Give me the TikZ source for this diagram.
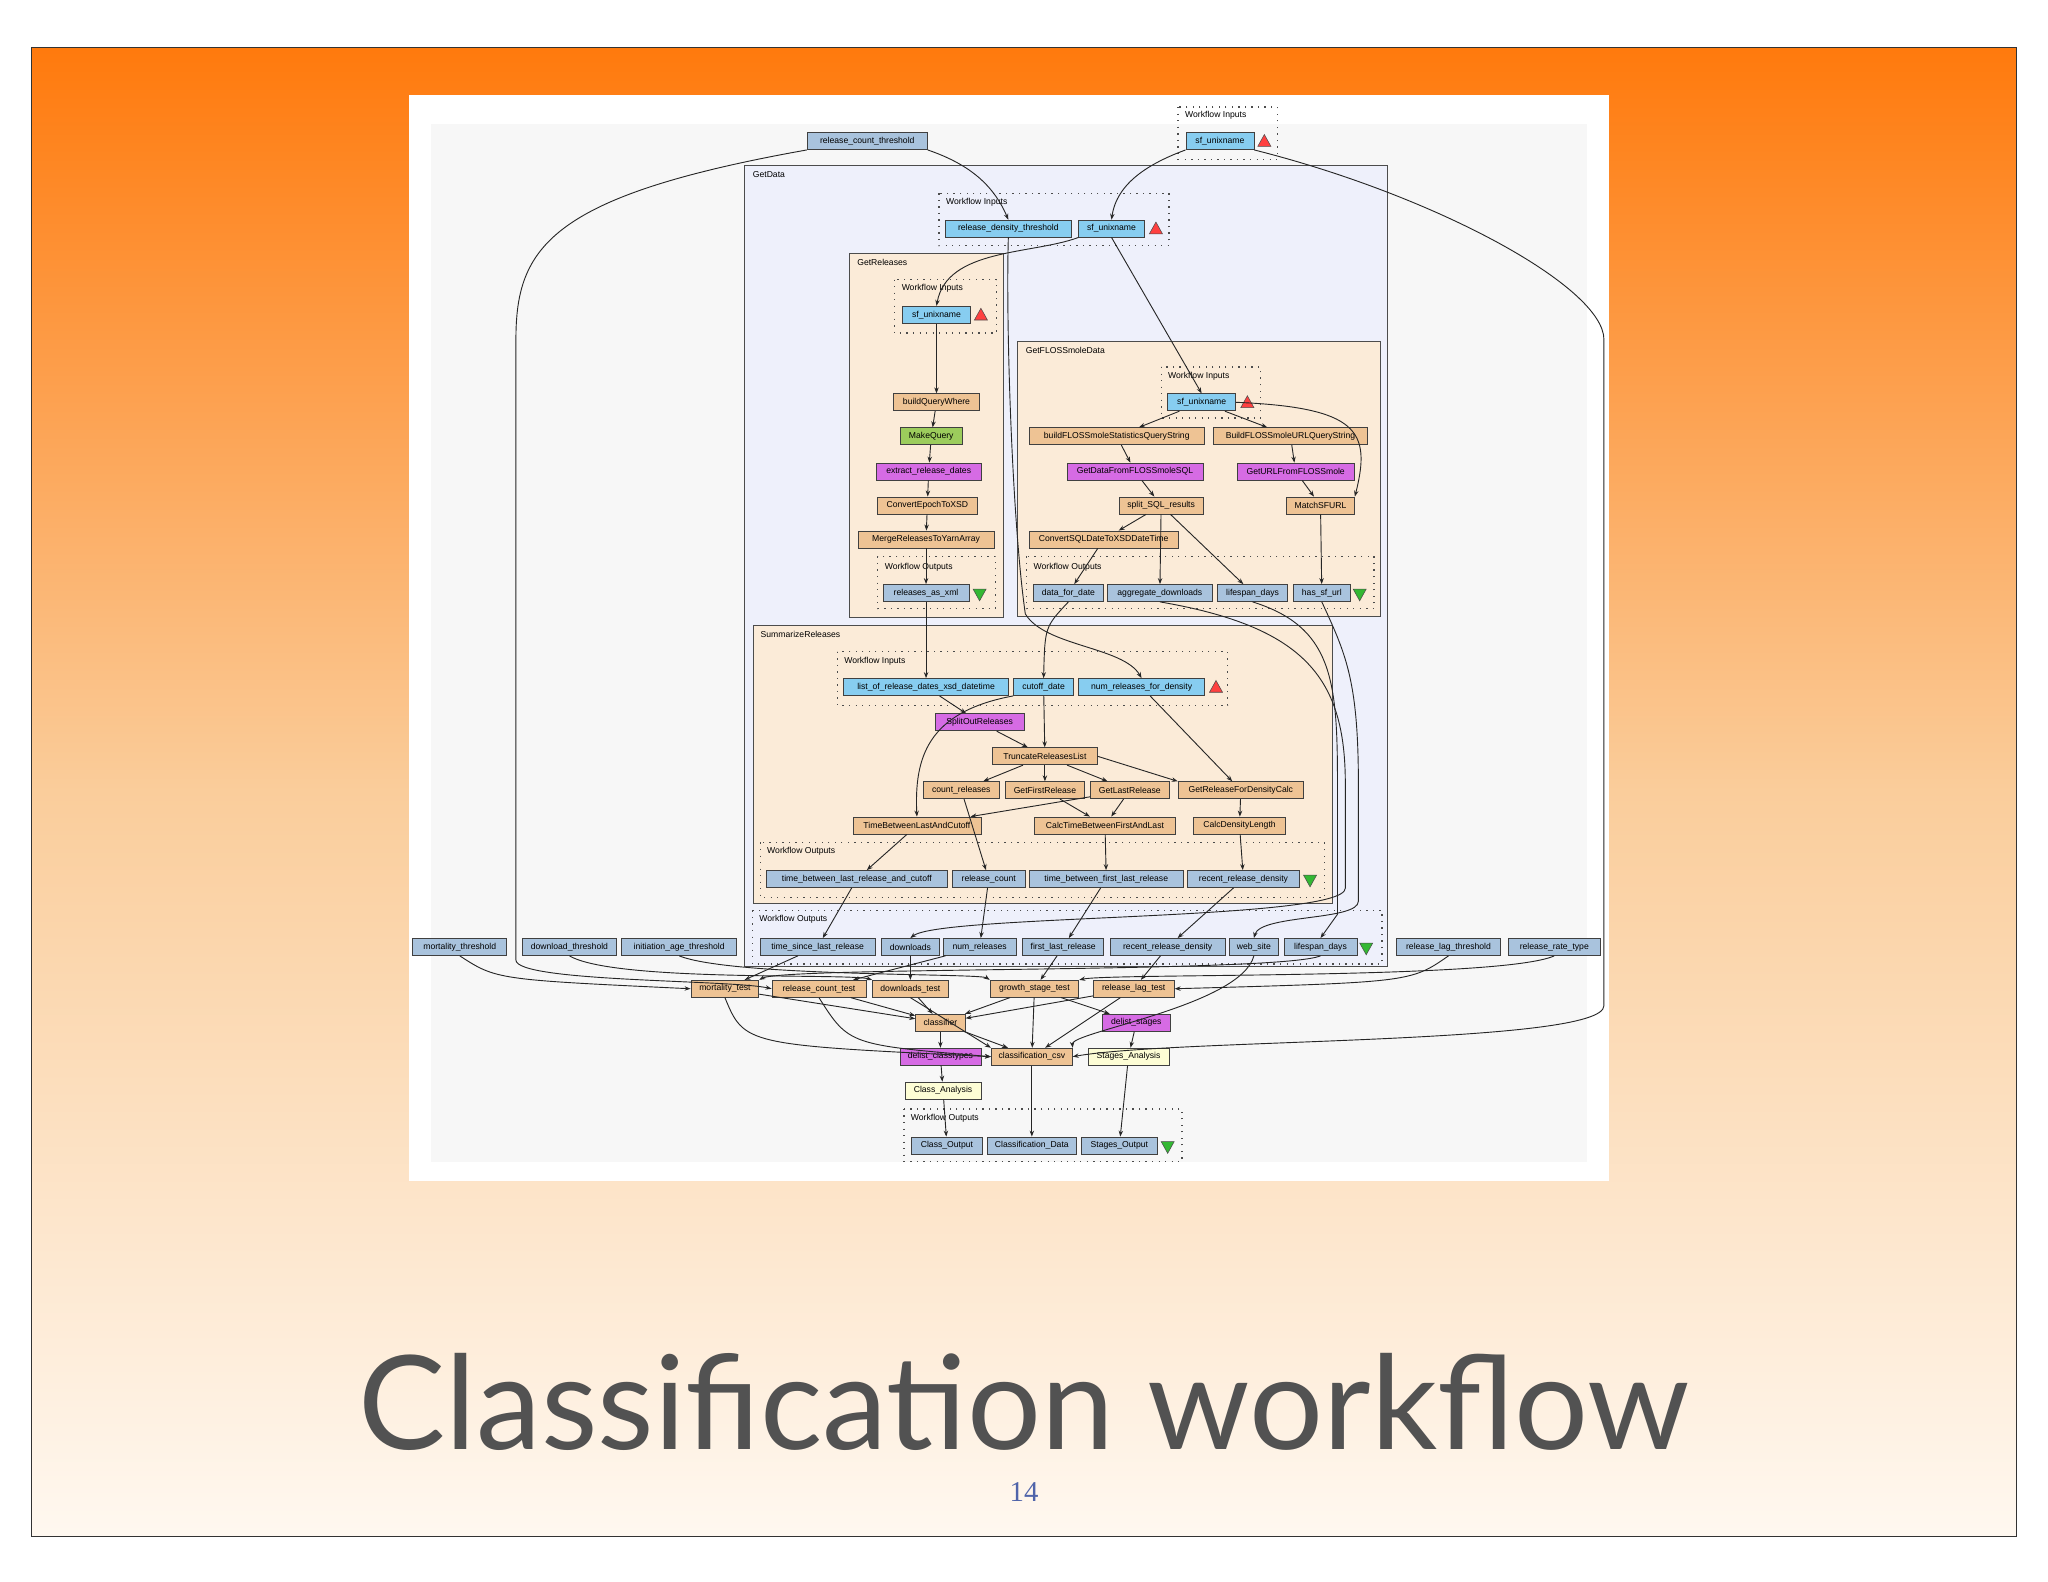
\documentclass[tikz,border=0pt]{standalone}
\usepackage{fontspec}
\setmainfont{Liberation Sans}
\newfontfamily\titlefont{Lato}
\newfontfamily\numfont{Liberation Serif}
\usetikzlibrary{arrows.meta}
\definecolor{tanc}{HTML}{EEC394}
\definecolor{inb}{HTML}{87CDF0}
\definecolor{gb}{HTML}{A9C3DD}
\definecolor{grn}{HTML}{9CCC5C}
\definecolor{mag}{HTML}{D66BE4}
\definecolor{pyl}{HTML}{FDFDD5}
\definecolor{subbg}{HTML}{FBEBD8}
\definecolor{gdbg}{HTML}{EEF0FB}
\tikzset{
 box/.style={draw=black!75,line width=0.3pt,inner sep=0pt,minimum height=6.5pt,font=\fontsize{3.3}{3.6}\selectfont},
 w/.style={minimum width=#1*0.5pt},
 tan/.style={box,fill=tanc}, inb/.style={box,fill=inb}, gb/.style={box,fill=gb},
 grn/.style={box,fill=grn}, mag/.style={box,fill=mag}, pyl/.style={box,fill=pyl},
 dots/.style={draw=black!70,dotted,line width=0.5pt},
 sub/.style={draw=black!70,line width=0.3pt},
 lab/.style={anchor=west,font=\fontsize{3.3}{3.6}\selectfont,inner sep=0pt},
 e/.style={draw=black!85,line width=0.35pt,-{Stealth[length=2.3pt,width=1.7pt]}},
 tup/.pic={\filldraw[fill=red!75!white,draw=black!70,line width=0.2pt] (-5,4)--(5,4)--(0,-5)--cycle;},
 tdn/.pic={\filldraw[fill=green!65!black!80!white,draw=black!70,line width=0.2pt] (-5,-4)--(5,-4)--(0,5)--cycle;}
}
\begin{document}
\begin{tikzpicture}[x=0.5pt,y=-0.5pt]
\useasboundingbox (0,0) rectangle (1568,1211);
\fill[white] (0,0) rectangle (1568,1211);
\shade[top color=orange!90!red!95!white,bottom color={rgb,255:red,255;green,248;blue,240},middle color={rgb,255:red,250;green,205;blue,155}] (24,36) rectangle (1544,1176);
\draw[black!80,line width=0.4pt] (24,36) rectangle (1544,1176);
\fill[white] (313,73) rectangle (1232,904);
\fill[black!3] (330,95) rectangle (1215,890);
% containers
\draw[sub,fill=gdbg] (570,127) rectangle (1062,740); \node[lab] at (576,134) {GetData};
\draw[sub,fill=subbg] (650,194) rectangle (768,473); \node[lab] at (656,201) {GetReleases};
\draw[sub,fill=subbg] (779,261) rectangle (1057,472); \node[lab] at (785,268) {GetFLOSSmoleData};
\draw[sub,fill=subbg] (577,479) rectangle (1020,692); \node[lab] at (582,486) {SummarizeReleases};
% dotted groups
\draw[dots] (902,82) rectangle (978,122); \node[lab] at (907,88) {Workflow Inputs};
\draw[dots] (719,148) rectangle (895,188); \node[lab] at (724,155) {Workflow Inputs};
\draw[dots] (685,214) rectangle (763,255); \node[lab] at (690,221) {Workflow Inputs};
\draw[dots] (672,426) rectangle (762,466); \node[lab] at (677,434) {Workflow Outputs};
\draw[dots] (889,281) rectangle (965,320); \node[lab] at (894,288) {Workflow Inputs};
\draw[dots] (786,426) rectangle (1052,466); \node[lab] at (791,434) {Workflow Outputs};
\draw[dots] (641,499) rectangle (940,540); \node[lab] at (646,506) {Workflow Inputs};
\draw[dots] (582,645) rectangle (1014,687); \node[lab] at (587,652) {Workflow Outputs};
\draw[dots] (576,697) rectangle (1058,738); \node[lab] at (581,704) {Workflow Outputs};
\draw[dots] (692,849) rectangle (905,889); \node[lab] at (697,856) {Workflow Outputs};
% nodes
\node[gb,w=92] (rct) at (664,108) {release\_count\_threshold};
\node[inb,w=52] (sf0) at (934,108) {sf\_unixname}; \pic at (968,108) {tup};
\node[inb,w=96] (rdt) at (772,175) {release\_density\_threshold};
\node[inb,w=50] (sf1) at (851,175) {sf\_unixname}; \pic at (885,175) {tup};
\node[inb,w=52] (sf2) at (717,241) {sf\_unixname}; \pic at (751,241) {tup};
\node[tan,w=66] (bqw) at (717,308) {buildQueryWhere};
\node[grn,w=48] (mq) at (713,334) {MakeQuery};
\node[mag,w=80] (erd) at (711,361) {extract\_release\_dates};
\node[tan,w=76] (ce) at (710,387) {ConvertEpochToXSD};
\node[tan,w=104] (mr) at (709,413) {MergeReleasesToYarnArray};
\node[gb,w=66] (rax) at (709,454) {releases\_as\_xml}; \pic at (750,455) {tdn};
\node[inb,w=52] (sf3) at (920,308) {sf\_unixname}; \pic at (955,308) {tup};
\node[tan,w=134] (bfs) at (855,334) {buildFLOSSmoleStatisticsQueryString};
\node[tan,w=118] (bfu) at (988,334) {BuildFLOSSmoleURLQueryString};
\node[mag,w=104] (gds) at (869,361) {GetDataFromFLOSSmoleSQL};
\node[mag,w=90] (guf) at (992,361) {GetURLFromFLOSSmole};
\node[tan,w=64] (ssr) at (889,387) {split\_SQL\_results};
\node[tan,w=52] (msf) at (1011,387) {MatchSFURL};
\node[tan,w=114] (csd) at (845,413) {ConvertSQLDateToXSDDateTime};
\node[gb,w=54] (dfd) at (818,454) {data\_for\_date};
\node[gb,w=80] (agd) at (888,454) {aggregate\_downloads};
\node[gb,w=54] (lsd) at (959,454) {lifespan\_days};
\node[gb,w=44] (hsu) at (1012,454) {has\_sf\_url}; \pic at (1041,455) {tdn};
\node[inb,w=126] (lrd) at (709,526) {list\_of\_release\_dates\_xsd\_datetime};
\node[inb,w=46] (cod) at (799,526) {cutoff\_date};
\node[inb,w=96] (nrd) at (874,526) {num\_releases\_for\_density}; \pic at (931,526) {tup};
\node[mag,w=68] (sor) at (750,553) {SplitOutReleases};
\node[tan,w=80] (trl) at (800,579) {TruncateReleasesList};
\node[tan,w=58] (cr) at (736,605) {count\_releases};
\node[tan,w=60] (gfr) at (800,605) {GetFirstRelease};
\node[tan,w=60] (glr) at (865,605) {GetLastRelease};
\node[tan,w=96] (grd) at (950,605) {GetReleaseForDensityCalc};
\node[tan,w=98] (tbl) at (702,632) {TimeBetweenLastAndCutoff};
\node[tan,w=108] (ctb) at (846,632) {CalcTimeBetweenFirstAndLast};
\node[tan,w=70] (cdl) at (949,632) {CalcDensityLength};
\node[gb,w=138] (tblc) at (656,673) {time\_between\_last\_release\_and\_cutoff};
\node[gb,w=56] (rc) at (757,673) {release\_count};
\node[gb,w=118] (tbfl) at (847,673) {time\_between\_first\_last\_release};
\node[gb,w=86] (rrd1) at (952,673) {recent\_release\_density}; \pic at (1003,674) {tdn};
\node[gb,w=88] (tsl) at (626,725) {time\_since\_last\_release};
\node[gb,w=44] (dl) at (697,725) {downloads};
\node[gb,w=56] (nr) at (750,725) {num\_releases};
\node[gb,w=62] (flr) at (814,725) {first\_last\_release};
\node[gb,w=88] (rrd2) at (894,725) {recent\_release\_density};
\node[gb,w=38] (ws) at (960,725) {web\_site};
\node[gb,w=56] (lsd2) at (1011,725) {lifespan\_days}; \pic at (1046,726) {tdn};
\node[gb,w=72] (mt) at (352,725) {mortality\_threshold};
\node[gb,w=72] (dt) at (436,725) {download\_threshold};
\node[gb,w=88] (iat) at (520,725) {initiation\_age\_threshold};
\node[gb,w=80] (rlt) at (1109,725) {release\_lag\_threshold};
\node[gb,w=70] (rrt) at (1190,725) {release\_rate\_type};
\node[tan,w=52] (mtest) at (555,757) {mortality\_test};
\node[tan,w=72] (rctest) at (627,757) {release\_count\_test};
\node[tan,w=58] (dtest) at (697,757) {downloads\_test};
\node[tan,w=68] (gst) at (792,757) {growth\_stage\_test};
\node[tan,w=62] (rlt2) at (868,757) {release\_lag\_test};
\node[tan,w=38] (cls) at (720,783) {classifier};
\node[mag,w=52] (dst) at (870,783) {delist\_stages};
\node[mag,w=62] (dct) at (720,809) {delist\_classtypes};
\node[tan,w=62] (ccsv) at (790,809) {classification\_csv};
\node[pyl,w=62] (sa) at (864,809) {Stages\_Analysis};
\node[pyl,w=58] (ca) at (722,835) {Class\_Analysis};
\node[gb,w=54] (co) at (725,877) {Class\_Output};
\node[gb,w=68] (cdt) at (790,877) {Classification\_Data};
\node[gb,w=58] (so) at (857,877) {Stages\_Output}; \pic at (894,878) {tdn};
% edges top
\draw[e] (rct.south west) .. controls (420,150) and (395,190) .. (395,260) -- (395,735) .. controls (395,752) and (560,750) .. (rctest.west);
\draw[e] (rct.south east) .. controls (740,125) and (760,140) .. (rdt.north);
\draw[e] (sf0.south west) .. controls (880,125) and (855,140) .. (sf1.north);
\draw[e] (sf0.south east) .. controls (1100,150) and (1228,220) .. (1228,260) -- (1228,770) .. controls (1228,800) and (900,795) .. (ccsv.east);
\draw[e] (sf1.south west) .. controls (790,195) and (725,190) .. (sf2.north);
\draw[e] (sf1.south) -- (sf3.north);
\draw[e] (rdt.south) .. controls (770,250) and (775,400) .. (785,470) .. controls (800,495) and (860,495) .. (nrd.north);
% GetReleases
\draw[e] (sf2) -- (bqw); \draw[e] (bqw) -- (mq); \draw[e] (mq) -- (erd); \draw[e] (erd) -- (ce); \draw[e] (ce) -- (mr); \draw[e] (mr) -- (rax);
\draw[e] (rax) -- (lrd);
% FLOSS
\draw[e] (sf3) -- (bfs); \draw[e] (sf3) -- (bfu);
\draw[e] (sf3.east) .. controls (1040,312) and (1050,330) .. (msf.north east);
\draw[e] (bfs) -- (gds); \draw[e] (bfu) -- (guf); \draw[e] (gds) -- (ssr); \draw[e] (guf) -- (msf);
\draw[e] (ssr) -- (csd); \draw[e] (ssr) -- (agd); \draw[e] (ssr) -- (lsd); \draw[e] (csd) -- (dfd); \draw[e] (msf) -- (hsu);
\draw[e] (dfd.south) .. controls (800,480) .. (cod.north);
% Summarize
\draw[e] (lrd) -- (sor); \draw[e] (cod) -- (trl); \draw[e] (sor) -- (trl);
\draw[e] (cod.south west) .. controls (710,545) and (700,580) .. (tbl.north);
\draw[e] (trl) -- (cr); \draw[e] (trl) -- (gfr); \draw[e] (trl) -- (glr);
\draw[e] (nrd) -- (grd); \draw[e] (trl.east) -- (grd.north west);
\draw[e] (gfr) -- (ctb); \draw[e] (glr) -- (ctb); \draw[e] (glr) -- (tbl); \draw[e] (grd) -- (cdl);
\draw[e] (cr) -- (rc); \draw[e] (tbl) -- (tblc); \draw[e] (ctb) -- (tbfl); \draw[e] (cdl) -- (rrd1);
\draw[e] (tblc) -- (tsl); \draw[e] (rc) -- (nr); \draw[e] (tbfl) -- (flr); \draw[e] (rrd1) -- (rrd2);
\draw[e] (agd.south) .. controls (1000,480) and (1030,520) .. (1030,600) -- (1030,680) .. controls (1030,705) and (720,700) .. (dl.north);
\draw[e] (hsu.south) .. controls (1030,500) and (1040,520) .. (1040,600) -- (1040,690) .. controls (1040,705) and (965,700) .. (ws.north);
\draw[e] (lsd.south) .. controls (1020,480) and (1024,520) .. (1024,600) -- (1024,700) -- (lsd2.north);
% bottom
\draw[e] (mt.south) .. controls (380,750) .. (mtest.west);
\draw[e] (dt.south) .. controls (470,752) and (650,745) .. (dtest.north west);
\draw[e] (iat.south) .. controls (560,748) and (750,745) .. (gst.north west);
\draw[e] (rlt.south) .. controls (1080,752) .. (rlt2.east);
\draw[e] (rrt.south) .. controls (1150,750) and (850,745) .. (gst.north east);
\draw[e] (tsl) -- (mtest); \draw[e] (dl) -- (dtest); \draw[e] (nr) -- (rctest); \draw[e] (flr) -- (gst); \draw[e] (rrd2) -- (rlt2);
\draw[e] (lsd2.south) .. controls (980,745) and (600,740) .. (mtest.north east);
\draw[e] (ws.south) .. controls (950,770) and (820,790) .. (ccsv.north east);
\draw[e] (mtest) -- (cls); \draw[e] (rctest) -- (cls); \draw[e] (dtest) -- (cls); \draw[e] (gst) -- (cls); \draw[e] (rlt2) -- (cls);
\draw[e] (gst) -- (dst);
\draw[e] (mtest.south) .. controls (570,800) .. (ccsv.west);
\draw[e] (rctest.south) .. controls (650,800) .. (ccsv.west);
\draw[e] (dtest.south) -- (ccsv.north west);
\draw[e] (gst) -- (ccsv); \draw[e] (rlt2) -- (ccsv);
\draw[e] (cls) -- (dct); \draw[e] (cls) -- (ccsv); \draw[e] (dst) -- (sa);
\draw[e] (dct) -- (ca); \draw[e] (ca) -- (co); \draw[e] (ccsv) -- (cdt); \draw[e] (sa) -- (so);
% title
\node[font={\titlefont\fontsize{50}{56}\selectfont},text=black!68] at (784,1073) {Classification workflow};
\node[font={\numfont\fontsize{11}{12}\selectfont},text={rgb,255:red,80;green,100;blue,170}] at (784,1142) {14};
\end{tikzpicture}
\end{document}
